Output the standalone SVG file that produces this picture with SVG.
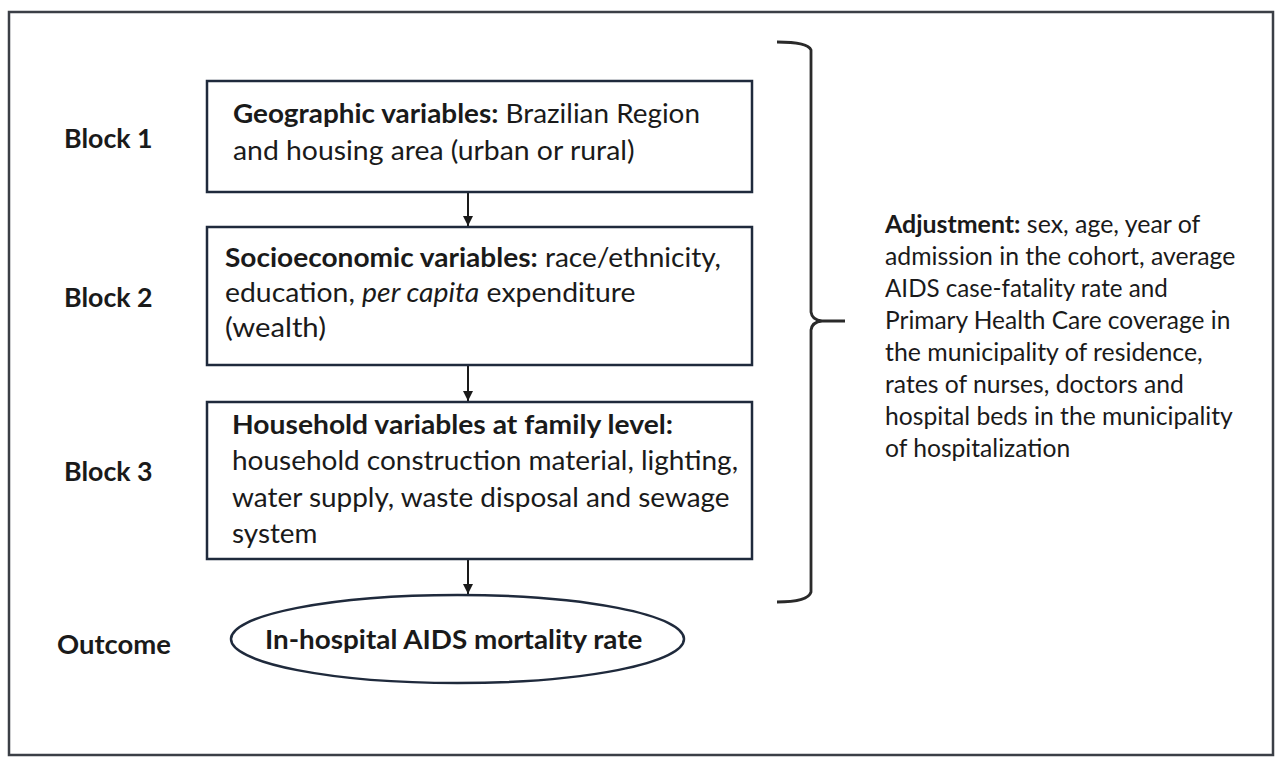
<svg xmlns="http://www.w3.org/2000/svg" width="1280" height="766" viewBox="0 0 1280 766">
<style>
  .t{font-family:Lato,"Liberation Sans",sans-serif;fill:#1a1a1a}
  .bx{font-size:27.5px}
  .adj{font-size:24.4px}
  .b{font-weight:bold}
  .i{font-style:italic}
  .node{fill:#ffffff;stroke:#1f2a3c;stroke-width:2.5}
  .conn{stroke:#1a1a1a;stroke-width:2;fill:none}
</style>
<defs>
  <marker id="ah" viewBox="0 0 10 10" refX="10" refY="5" markerWidth="10" markerHeight="10" markerUnits="userSpaceOnUse" orient="auto">
    <path d="M0,0 L10,5 L0,10 Z" fill="#1a1a1a"/>
  </marker>
</defs>
<rect width="1280" height="766" fill="#ffffff"/>
<rect id="frame" x="9" y="12" width="1264" height="743" fill="none" stroke="#3b3f46" stroke-width="2.5"/>

<g id="labels">
  <text class="t bx b" x="64" y="148" textLength="88.6" lengthAdjust="spacingAndGlyphs">Block 1</text>
  <text class="t bx b" x="64" y="307" textLength="88.6" lengthAdjust="spacingAndGlyphs">Block 2</text>
  <text class="t bx b" x="64" y="481" textLength="88.6" lengthAdjust="spacingAndGlyphs">Block 3</text>
  <text class="t bx b" x="57" y="654" textLength="114" lengthAdjust="spacingAndGlyphs">Outcome</text>
</g>

<g id="connectors">
  <line class="conn" x1="468" y1="192" x2="468" y2="226" marker-end="url(#ah)"/>
  <line class="conn" x1="468" y1="365" x2="468" y2="401" marker-end="url(#ah)"/>
  <line class="conn" x1="468" y1="559" x2="468" y2="594" marker-end="url(#ah)"/>
</g>

<g id="block1">
  <rect class="node" x="207" y="81" width="545" height="111"/>
  <text class="t bx" x="233" y="123" textLength="467" lengthAdjust="spacingAndGlyphs"><tspan class="b">Geographic variables:</tspan> Brazilian Region</text>
  <text class="t bx" x="233" y="160" textLength="401.5" lengthAdjust="spacingAndGlyphs">and housing area (urban or rural)</text>
</g>

<g id="block2">
  <rect class="node" x="207" y="227" width="545" height="138"/>
  <text class="t bx" x="225" y="267" textLength="496" lengthAdjust="spacingAndGlyphs"><tspan class="b">Socioeconomic variables:</tspan> race/ethnicity,</text>
  <text class="t bx" x="225" y="302" textLength="410.5" lengthAdjust="spacingAndGlyphs">education, <tspan class="i">per capita</tspan> expenditure</text>
  <text class="t bx" x="225" y="337" textLength="101" lengthAdjust="spacingAndGlyphs">(wealth)</text>
</g>

<g id="block3">
  <rect class="node" x="207" y="402" width="545" height="157"/>
  <text class="t bx b" x="232" y="434" textLength="441" lengthAdjust="spacingAndGlyphs">Household variables at family level:</text>
  <text class="t bx" x="232" y="470" textLength="506" lengthAdjust="spacingAndGlyphs">household construction material, lighting,</text>
  <text class="t bx" x="232" y="507" textLength="497.6" lengthAdjust="spacingAndGlyphs">water supply, waste disposal and sewage</text>
  <text class="t bx" x="232" y="543" textLength="85.4" lengthAdjust="spacingAndGlyphs">system</text>
</g>

<g id="outcome">
  <ellipse class="node" cx="457.5" cy="639" rx="226.5" ry="44"/>
  <text class="t bx b" x="265" y="649" textLength="377.4" lengthAdjust="spacingAndGlyphs">In-hospital AIDS mortality rate</text>
</g>

<g id="brace">
  <path d="M777,42 Q808,42 811,50 L811,312 Q812,320 822,321 L845,321 M822,321 Q812,322 811,330 L811,592 Q808,602 777,602" fill="none" stroke="#2a2a2a" stroke-width="2.8"/>
</g>

<g id="adjustment">
  <text class="t adj" x="885" y="233" textLength="315.3" lengthAdjust="spacingAndGlyphs"><tspan class="b">Adjustment:</tspan> sex, age, year of</text>
  <text class="t adj" x="885" y="265" textLength="350.4" lengthAdjust="spacingAndGlyphs">admission in the cohort, average</text>
  <text class="t adj" x="885" y="297" textLength="282.8" lengthAdjust="spacingAndGlyphs">AIDS case-fatality rate and</text>
  <text class="t adj" x="885" y="329" textLength="345.3" lengthAdjust="spacingAndGlyphs">Primary Health Care coverage in</text>
  <text class="t adj" x="885" y="361" textLength="317.7" lengthAdjust="spacingAndGlyphs">the municipality of residence,</text>
  <text class="t adj" x="885" y="393" textLength="298.9" lengthAdjust="spacingAndGlyphs">rates of nurses, doctors and</text>
  <text class="t adj" x="885" y="425" textLength="347.8" lengthAdjust="spacingAndGlyphs">hospital beds in the municipality</text>
  <text class="t adj" x="885" y="457" textLength="185.2" lengthAdjust="spacingAndGlyphs">of hospitalization</text>
</g>
</svg>
